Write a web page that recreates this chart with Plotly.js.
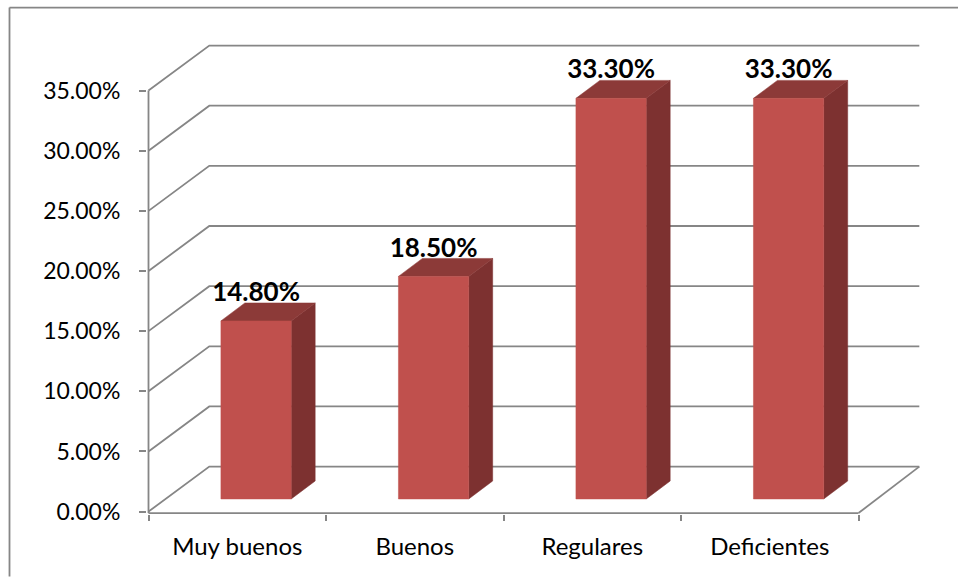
<!DOCTYPE html>
<html>
<head>
<meta charset="utf-8">
<script src="https://cdn.plot.ly/plotly-3.0.1.min.js"></script>
<style>html,body{margin:0;padding:0;background:#fff}#c{width:958px;height:577px}</style>
</head>
<body>
<div id="c"></div>
<script>
var categories = ["Muy buenos", "Buenos", "Regulares", "Deficientes"];
var values = [14.8, 18.5, 33.3, 33.3];
var valueLabels = ["14.80%", "18.50%", "33.30%", "33.30%"];
var yTicks = [0, 5, 10, 15, 20, 25, 30, 35];
var yTickLabels = ["0.00%", "5.00%", "10.00%", "15.00%", "20.00%", "25.00%", "30.00%", "35.00%"];

// Oblique projection, in axis units
var wallDx = 0.3425, wallDy = 3.74;      // depth of the back wall
var barDx = 0.135, barDy = 1.495;        // depth of a bar
var barShiftX = 0.106, barShiftY = 1.05; // bars stand partway into the floor
var barHalf = 0.198;
var nCat = categories.length;

var GRID = "#868686", FRONT = "#C0504D", TOP = "#8C3A38", SIDE = "#7D3130";
var traces = [];
function line(x, y, axis, color) {
  traces.push({type:"scatter", mode:"lines", x:x, y:y, xaxis:axis||"x", yaxis:"y",
    line:{color:color||GRID, width:1.8}, hoverinfo:"skip", showlegend:false, cliponaxis:false});
}
function poly(x, y, color) {
  traces.push({type:"scatter", mode:"lines", x:x, y:y, fill:"toself", fillcolor:color,
    line:{color:color, width:0.5}, hoverinfo:"skip", showlegend:false, cliponaxis:false});
}

// Walls and gridlines
yTicks.forEach(function (t) {
  line([0, wallDx, nCat + wallDx], [t, t + wallDy, t + wallDy]);
});
// Floor right edge and value axis
line([nCat, nCat + wallDx], [-0.12, wallDy]);
line([0, 0], [-0.12, 35]);
// Category axis line
line([0, nCat], [-0.12, -0.12]);
// Carrier for the boundary tick axis
line([0, nCat], [0, 0], "x2", "rgba(0,0,0,0)");

// Bars
values.forEach(function (v, i) {
  var l = i + 0.5 + barShiftX - barHalf, r = i + 0.5 + barShiftX + barHalf;
  var b = barShiftY, t = barShiftY + v;
  poly([r, r + barDx, r + barDx, r, r], [b, b + barDy, t + barDy, t, b], SIDE);
  poly([l, l + barDx, r + barDx, r, l], [t, t + barDy, t + barDy, t, t], TOP);
  poly([l, r, r, l, l], [b, b, t, t, b], FRONT);
});

// Data labels
traces.push({type:"scatter", mode:"text",
  x: values.map(function (v, i) { return i + 0.5 + barShiftX; }),
  y: values.map(function (v) { return v + barShiftY + barDy - 0.38; }),
  text: valueLabels, textposition:"top center",
  textfont:{family:"Lato, sans-serif", size:26, color:"#000", weight:700},
  hoverinfo:"skip", showlegend:false, cliponaxis:false});

var plotLeft = 147, plotBottom = 514.4, plotW = 774, plotH = 470.4;
function paperX(p) { return (p - plotLeft) / plotW; }
function paperY(p) { return (plotBottom - p) / plotH; }

var layout = {
  width:958, height:577,
  margin:{l:147, r:37, t:44, b:62.6},
  paper_bgcolor:"#fff", plot_bgcolor:"rgba(0,0,0,0)",
  font:{family:"Lato, sans-serif", size:23, color:"#000"},
  showlegend:false,
  xaxis:{type:"linear", range:[-0.00845, 4.352], showgrid:false, zeroline:false, showline:false,
    tickmode:"array", tickvals:categories.map(function (c, i) { return i + 0.5; }),
    ticktext:categories, ticks:"", ticklabelstandoff:16, tickfont:{size:24}},
  xaxis2:{type:"linear", range:[-0.00845, 4.352], overlaying:"x", anchor:"y", side:"bottom",
    showgrid:false, zeroline:false, showline:false, showticklabels:false,
    tickmode:"array", tickvals:[0, 1, 2, 3, 4], ticks:"outside", ticklen:6, tickwidth:1.8, tickcolor:GRID},
  yaxis:{type:"linear", range:[-0.2, 38.87], showgrid:false, zeroline:false, showline:false,
    tickmode:"array", tickvals:yTicks, ticktext:yTickLabels,
    ticks:"outside", ticklen:7, tickwidth:1.8, tickcolor:GRID, ticklabelstandoff:14, tickfont:{size:23}},
  shapes:[
    {type:"line", xref:"paper", yref:"paper", x0:paperX(9.5), x1:paperX(9.5), y0:paperY(577), y1:paperY(7.5), line:{color:GRID, width:1.8}},
    {type:"line", xref:"paper", yref:"paper", x0:paperX(9.5), x1:paperX(958), y0:paperY(7.5), y1:paperY(7.5), line:{color:GRID, width:1.8}}
  ]
};
Plotly.newPlot("c", traces, layout, {displayModeBar:false, responsive:false});
</script>
</body>
</html>
